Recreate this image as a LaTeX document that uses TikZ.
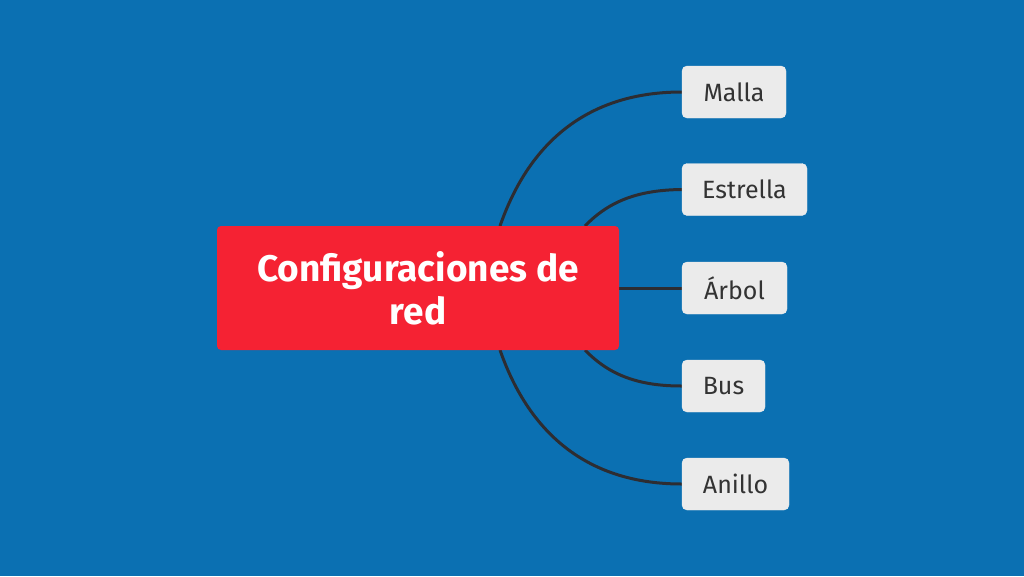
\documentclass[tikz,border=0pt]{standalone}
\usepackage{fontspec}
\setmainfont{Fira Sans}
\definecolor{bgblue}{RGB}{11,112,178}
\definecolor{rootred}{RGB}{245,34,51}
\definecolor{leafgray}{RGB}{235,235,235}
\definecolor{leaftext}{RGB}{51,51,51}
\definecolor{linkcol}{RGB}{45,45,50}
\pgfdeclarelayer{bglayer}
\pgfdeclarelayer{linklayer}
\pgfsetlayers{bglayer,linklayer,main}
\tikzset{
  rootbox/.style={fill=rootred, rounded corners=4pt, inner sep=0pt, text=white,
    font=\fontsize{37}{43}\selectfont\bfseries, align=center},
  leafbox/.style={fill=leafgray, draw=leafgray!90!white, rounded corners=5pt, inner sep=0pt,
    text=leaftext, font=\fontsize{25}{30}\selectfont, minimum height=52pt},
  link/.style={draw=linkcol, line width=3pt}
}
\begin{document}
\begin{tikzpicture}[x=1pt,y=-1pt]
\useasboundingbox (0,0) rectangle (1024,576);
\begin{pgfonlayer}{bglayer}
\fill[bgblue] (0,0) rectangle (1024,576);
\end{pgfonlayer}

\node[rootbox, minimum width=402pt, minimum height=124pt] (root) at (418,288) {Configuraciones de\\red};

\node[leafbox, minimum width=104pt] (malla) at (734,92) {Malla};
\node[leafbox, minimum width=125pt] (estrella) at (744.5,189.5) {Estrella};
\node[leafbox, minimum width=105pt] (arbol) at (734.5,288) {Árbol};
\node[leafbox, minimum width=83pt] (bus) at (723.5,386) {Bus};
\node[leafbox, minimum width=107pt] (anillo) at (735.5,484) {Anillo};

\coordinate (m0) at (500,226);
\coordinate (e0) at (585,226);
\coordinate (b0) at (585,350);
\coordinate (a0) at (500,350);

\begin{pgfonlayer}{linklayer}
\draw[link] (m0) .. controls (530,140) and (590,92) .. (malla.west);
\draw[link] (e0) .. controls (610,200) and (640,190) .. (estrella.west);
\draw[link] (root.east) -- (arbol.west);
\draw[link] (b0) .. controls (610,376) and (640,386) .. (bus.west);
\draw[link] (a0) .. controls (530,436) and (590,484) .. (anillo.west);
\end{pgfonlayer}
\end{tikzpicture}
\end{document}
